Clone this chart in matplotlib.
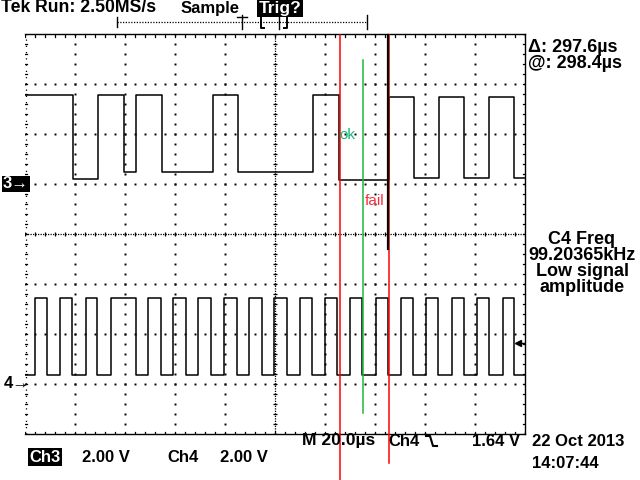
import numpy as np
import matplotlib
matplotlib.use("Agg")
import matplotlib.pyplot as plt
from matplotlib.lines import Line2D

# scope settings
time_per_div = 20.0      # us / div
volts_per_div = 2.0      # V / div
ch3_offset_div = 1.0     # ground marker "3->"
ch4_offset_div = -3.0    # ground marker "4->"
trig_level_v = 1.64

# Ch3 trace: edge times (us from left edge) and level of each segment (V)
ch3_edges_us = [19.2, 29.2, 39.6, 44.4, 54.8, 75.2, 85.2, 115.2, 125.6,
                145.6, 155.6, 165.6, 175.6, 185.6, 195.6]
ch3_levels_v = [3.56, 0.20, 3.56, 0.48, 3.56, 0.50, 3.56, 0.50, 3.56,
                0.16, 3.48, 0.24, 3.48, 0.24, 3.48, 0.24]

# Ch4 trace: edge times, starts low
ch4_edges_us = [4.0, 8.8, 14.0, 18.8, 24.4, 28.8, 34.4, 44.4, 49.2, 54.4,
                59.2, 64.4, 69.2, 74.4, 79.6, 84.8, 89.6, 94.8, 99.6, 104.8,
                110.0, 114.8, 120.0, 124.8, 130.0, 134.8, 140.4, 145.2, 150.4,
                155.2, 160.4, 165.2, 170.8, 175.6, 180.8, 185.6, 191.2, 195.6]
ch4_low_v = 0.36
ch4_high_v = 3.44

# hand drawn marker lines (time in us)
red1_us = 125.8
green_us = 135.2
black_us = 145.2
red2_us = 145.6

FONT = "Liberation Sans"
fig = plt.figure(figsize=(6.4, 4.8), dpi=100)
fig.patch.set_facecolor("white")


def fpos(x, y):
    return x / 640.0, 1 - y / 480.0


def step_xy(edges, levels, t0=0.0, t1=200.0):
    xs, ys = [t0], [levels[0]]
    for i, e in enumerate(edges):
        xs += [e, e]
        ys += [levels[i], levels[i + 1]]
    xs.append(t1)
    ys.append(levels[-1])
    return np.array(xs), np.array(ys)


# graticule area: 500 x 400 px
ax = fig.add_axes([25 / 640, 46 / 480, 500 / 640, 400 / 480])
ax.set_xlim(0, 10 * time_per_div)
ax.set_ylim(-4, 4)
ax.axis("off")

dot = dict(linestyle="none", marker="s", markersize=1.4, color="black",
           markeredgewidth=0)
minor_t = np.arange(0, 200.01, 4)
minor_y = np.arange(-4, 4.01, 0.2)

# division dots
for k in range(1, 10):
    if k == 5:
        continue
    ax.plot(np.full_like(minor_y, k * 20), minor_y, **dot)
for j in range(-3, 4):
    if j == 0:
        continue
    ax.plot(minor_t, np.full_like(minor_t, j), **dot)

# center cross
ax.plot([0, 200], [0, 0], color="black", lw=0.9, linestyle=(0, (1, 1)))
ax.plot(minor_t, np.zeros_like(minor_t), linestyle="none", marker="|",
        markersize=3.5, color="black", markeredgewidth=0.9)
ax.plot([100, 100], [-4, 4], color="black", lw=0.9, linestyle=(0, (1, 1)))
ax.plot(np.full_like(minor_y, 100), minor_y, linestyle="none", marker="_",
        markersize=3.5, color="black", markeredgewidth=0.9)

# frame: top, bottom, right solid; left only ticks
ax.plot([0, 200], [4, 4], color="black", lw=1.0, clip_on=False)
ax.plot([0, 200], [-4, -4], color="black", lw=1.0, clip_on=False)
ax.plot([200, 200], [-4, 4], color="black", lw=1.0, clip_on=False)
for t in minor_t:
    ax.plot([t, t], [4, 3.95], color="black", lw=0.9)
    ax.plot([t, t], [-4, -3.95], color="black", lw=0.9)
for y in minor_y:
    ax.plot([0, 0.8], [y, y], color="black", lw=0.9)
    ax.plot([199.2, 200], [y, y], color="black", lw=0.9)
ax.plot([0.2, 0.2], [-4, 4], color="black", lw=0.9, linestyle=(0, (1, 4)))

# traces
x3, y3 = step_xy(ch3_edges_us, ch3_levels_v)
ax.plot(x3, ch3_offset_div + y3 / volts_per_div, color="black", lw=1.1)
ch4_levels_v = [ch4_low_v if i % 2 == 0 else ch4_high_v
                for i in range(len(ch4_edges_us) + 1)]
x4, y4 = step_xy(ch4_edges_us, ch4_levels_v)
ax.plot(x4, ch4_offset_div + y4 / volts_per_div, color="black", lw=1.1)

# trigger level marker
trig_y = ch4_offset_div + trig_level_v / volts_per_div
ax.plot([197.0], [trig_y], marker="<", markersize=5, color="black",
        clip_on=False)
ax.plot([197.0, 200], [trig_y, trig_y], color="black", lw=1.0)

# drawn marker lines
ax.plot([red1_us, red1_us], [3.98, -4.95], color="#ff0000", lw=1.1,
        clip_on=False)
ax.plot([green_us, green_us], [3.48, -3.58], color="#1cb83c", lw=1.1,
        clip_on=False)
ax.plot([red2_us, red2_us], [3.98, -4.58], color="#ff0000", lw=1.1,
        clip_on=False)
ax.plot([black_us, black_us], [3.98, -0.3], color="black", lw=1.6,
        clip_on=False)
ax.text(125.8, 1.98, "ok", color="#18b878", fontsize=11, family=FONT,
        ha="left", va="center")
ax.text(135.8, 0.66, "fail", color="#f5303c", fontsize=11, family=FONT,
        ha="left", va="center")

# header
tk = dict(family=FONT, fontsize=12, color="black", va="center",
          fontweight="bold")
tk_big = dict(tk, fontsize=13)
fig.text(*fpos(1, 8), "Tek Run: 2.50MS/s", ha="left", **dict(tk, fontsize=12.7))
fig.text(*fpos(181, 8), "Sample", ha="left", **tk)
fig.text(*fpos(280, 8), "Trig?", ha="center", family=FONT, fontsize=12.5,
         color="white", fontweight="bold", va="center",
         bbox=dict(facecolor="black", edgecolor="none", pad=1.2))
# record bar
fig.add_artist(Line2D([117 / 640, 367 / 640], [1 - 22 / 480] * 2,
                      color="black", lw=0.9, linestyle=(0, (1, 1.2))))
for xp, y0, y1 in [(117, 17, 27), (367, 15, 29), (242, 15, 29),
                   (279, 15, 29)]:
    fig.add_artist(Line2D([xp / 640] * 2, [1 - y0 / 480, 1 - y1 / 480],
                          color="black", lw=1.0))
fig.add_artist(Line2D([237 / 640, 247 / 640], [1 - 17 / 480] * 2,
                      color="black", lw=1.0))
for xs in ([264, 261, 261, 264], [284, 287, 287, 284]):
    fig.add_artist(Line2D([v / 640 for v in xs],
                          [1 - 15 / 480, 1 - 15 / 480, 1 - 28 / 480,
                           1 - 28 / 480], color="black", lw=1.4))

# channel markers
fig.text(*fpos(3, 184), "3\u2192", ha="left", family=FONT, fontsize=12,
         color="white", fontweight="bold", va="center",
         bbox=dict(facecolor="black", edgecolor="none", pad=0.6))
fig.text(*fpos(4, 384), "4\u2192", ha="left", family=FONT, fontsize=12,
         color="black", va="center", fontweight="bold")

# right side readouts
fig.text(*fpos(528, 48), "\u0394: 297.6\u00b5s", ha="left", **tk_big)
fig.text(*fpos(528, 64), "@: 298.4\u00b5s", ha="left", **tk_big)
for i, line in enumerate(["C4 Freq", "99.20365kHz", "Low signal",
                          "amplitude"]):
    fig.text(*fpos(582, 240 + 16 * i), line, ha="center", **tk_big)

# bottom readouts
fig.text(*fpos(302, 441), "M 20.0\u00b5s", ha="left", **dict(tk, fontsize=12.6))
fig.text(*fpos(388, 441), "Ch4", ha="left", **tk)
fig.add_artist(Line2D([426 / 640, 430 / 640, 433 / 640, 437 / 640],
                      [1 - 436 / 480, 1 - 436 / 480, 1 - 446 / 480,
                       1 - 446 / 480], color="black", lw=1.5))
fig.text(*fpos(520, 441), "1.64 V", ha="right", **tk)
fig.text(*fpos(532, 441), "22 Oct 2013", ha="left", **tk)
fig.text(*fpos(532, 464), "14:07:44", ha="left", **tk)
fig.text(*fpos(45, 457), "Ch3", ha="center", family=FONT, fontsize=12,
         color="white", fontweight="bold", va="center",
         bbox=dict(facecolor="black", edgecolor="none", pad=0.8))
fig.text(*fpos(82, 457), "2.00 V", ha="left", **tk)
fig.text(*fpos(167, 457), "Ch4", ha="left", **tk)
fig.text(*fpos(220, 457), "2.00 V", ha="left", **tk)

fig.savefig("out.png", dpi=100, facecolor="white")
